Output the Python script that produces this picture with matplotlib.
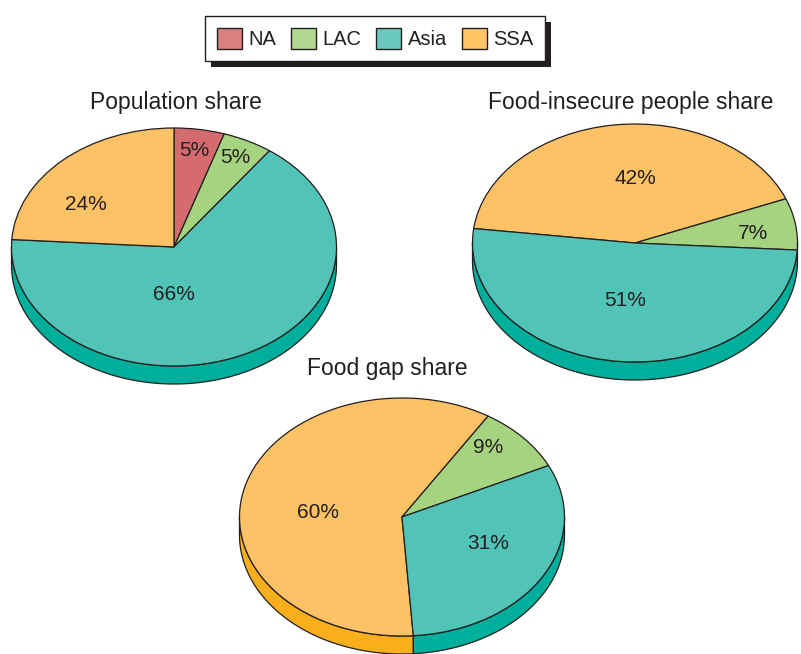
import matplotlib
matplotlib.use('Agg')
import matplotlib.pyplot as plt
import numpy as np
from matplotlib.patches import Patch, Rectangle, Polygon
from matplotlib.transforms import IdentityTransform

plt.rcParams['font.family'] = ['Liberation Sans', 'DejaVu Sans']

# ---------------- data ----------------
regions = ['NA', 'LAC', 'Asia', 'SSA']

pop_names = ['NA', 'LAC', 'Asia', 'SSA']
pop_values = [5, 5, 66, 24]

fi_names = ['SSA', 'LAC', 'Asia']
fi_values = [42, 7, 51]

gap_names = ['SSA', 'LAC', 'Asia']
gap_values = [60, 9, 31]

titles = ['Population share', 'Food-insecure people share', 'Food gap share']

# ---------------- style ----------------
top_colors = {'NA': '#D36B6F', 'LAC': '#A5D37F', 'Asia': '#52C3B7', 'SSA': '#FEC266'}
side_colors = {'NA': '#B5484D', 'LAC': '#7DB550', 'Asia': '#00AE9C', 'SSA': '#F9AE1B'}
legend_colors = {'NA': '#D98081', 'LAC': '#B0D88E', 'Asia': '#6AC9BF', 'SSA': '#FEC666'}
EDGE = '#231F20'
TEXT = '#231F20'

W, H = 801, 654
fig = plt.figure(figsize=(W / 100, H / 100), dpi=100)
fig.patch.set_facecolor('white')

A, B = 162.5, 119.0      # ellipse semi-axes in pixels
DEPTH = 18.0 / B         # side depth in data units
L = 1.4


def pie3d(values, names, cx, cy, start, label_pos):
    ax = fig.add_axes([(cx - L * A) / W, (H - cy - L * B) / H, 2 * L * A / W, 2 * L * B / H])
    wedges, _, autotexts = ax.pie(
        values, colors=[top_colors[n] for n in names], startangle=start,
        counterclock=False, radius=1,
        autopct=lambda p: f'{p:.0f}%',
        wedgeprops=dict(edgecolor=EDGE, linewidth=0.9),
        textprops=dict(color=TEXT, fontsize=15))
    ax.set_aspect('auto')
    ax.set_xlim(-L, L)
    ax.set_ylim(-L, L)
    ax.axis('off')
    for w, n in zip(wedges, names):
        w.set_zorder(3)
        w.set_clip_on(False)
        t1, t2 = w.theta1, w.theta2
        for k in range(-2, 3):
            lo = max(t1, 180 + 360 * k)
            hi = min(t2, 360 + 360 * k)
            if hi > lo:
                t = np.radians(np.linspace(lo, hi, 120))
                x = np.cos(t)
                y = np.sin(t)
                xs = np.concatenate([x, x[::-1]])
                ys = np.concatenate([y, y[::-1] - DEPTH])
                ax.add_patch(Polygon(np.column_stack([xs, ys]), closed=True,
                                     facecolor=side_colors[n], edgecolor=EDGE,
                                     linewidth=0.9, zorder=2, clip_on=False))
    for at, pos in zip(autotexts, label_pos):
        at.set_position(pos)
        at.set_ha('center')
        at.set_va('center')
        at.set_zorder(4)
    return ax


pie3d(pop_values, pop_names, 174, 247, 90,
      [(0.123, 0.815), (0.375, 0.756), (0.0, -0.40), (-0.54, 0.353)])
pie3d(fi_values, fi_names, 635, 243, 173,
      [(0.0, 0.546), (0.726, 0.076), (-0.06, -0.48)])
pie3d(gap_values, gap_names, 402, 517, -86,
      [(-0.52, 0.04), (0.53, 0.58), (0.53, -0.22)])

title_pos = [(176, 103), (631, 103), (387, 368)]
for t, (x, y) in zip(titles, title_pos):
    fig.text(x / W, 1 - y / H, t, ha='center', va='center', fontsize=16.5, color=TEXT)

handles = [Patch(facecolor=legend_colors[n], edgecolor=EDGE, linewidth=1.0, label=n) for n in regions]
leg = fig.legend(handles=handles, loc='center', bbox_to_anchor=(375 / W, 1 - 38.5 / H),
                 ncol=4, frameon=True, fancybox=False, fontsize=14.5, framealpha=1.0,
                 handlelength=1.25, handleheight=1.25, handletextpad=0.3,
                 columnspacing=0.75, borderpad=0.6, labelcolor=TEXT)
leg.get_frame().set_edgecolor(EDGE)
leg.get_frame().set_facecolor('white')
leg.get_frame().set_linewidth(1.0)
leg.set_zorder(5)

fig.canvas.draw()
bb = leg.get_frame().get_window_extent()
shadow = Rectangle((bb.x0 + 6, bb.y0 - 6), bb.width, bb.height, transform=IdentityTransform(),
                   facecolor=EDGE, edgecolor='none', zorder=4)
fig.add_artist(shadow)

fig.savefig('out.png', dpi=100)
